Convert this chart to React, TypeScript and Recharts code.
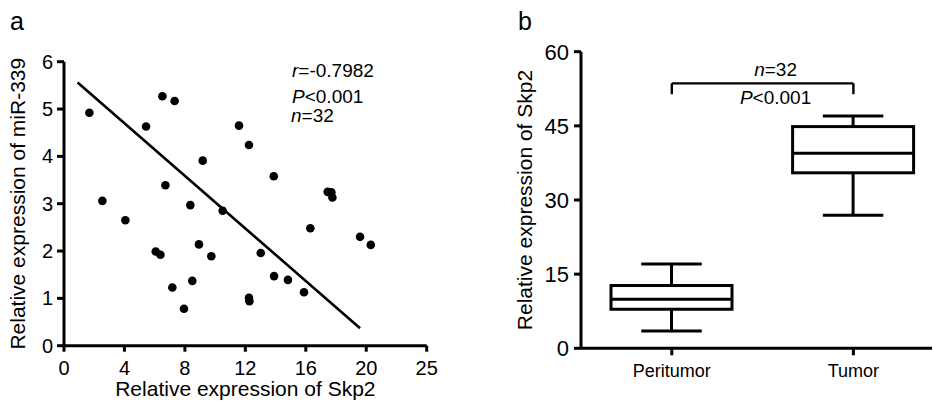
import React from 'react';
import {
  ScatterChart,
  Scatter,
  XAxis,
  YAxis,
  ReferenceLine,
  ComposedChart,
  Bar,
  Label,
  Customized,
} from 'recharts';

// ---------- Panel a: scatter data ----------
const skp2Values = [
  1.68, 2.54, 4.06, 5.43, 6.51, 7.32, 6.07, 6.38, 6.71, 7.17, 7.94, 8.36, 8.49, 8.93, 9.18, 9.75,
  10.5, 11.58, 12.24, 12.24, 12.27, 13.02, 13.88, 13.9, 14.82, 15.88, 16.3, 17.45, 17.69, 17.76,
  19.59, 20.3,
];
const mir339Values = [
  4.92, 3.06, 2.65, 4.63, 5.27, 5.17, 1.99, 1.92, 3.39, 1.23, 0.78, 2.97, 1.37, 2.14, 3.91, 1.89,
  2.85, 4.65, 4.24, 1.01, 0.94, 1.96, 3.58, 1.47, 1.39, 1.13, 2.48, 3.25, 3.24, 3.13, 2.3, 2.13,
];
const scatterXTicks = [0, 4, 8, 12, 16, 20, 24];
const scatterXTickLabels = ['0', '4', '8', '12', '16', '20', '25'];
const scatterYTicks = [0, 1, 2, 3, 4, 5, 6];
const fitStart = { x: 0.9, y: 5.56 };
const fitEnd = { x: 19.59, y: 0.37 };

// ---------- Panel b: box plot data ----------
const boxGroups = ['Peritumor', 'Tumor'];
const boxMin = [3.5, 26.9];
const boxQ1 = [7.9, 35.5];
const boxMedian = [9.9, 39.45];
const boxQ3 = [12.7, 44.85];
const boxMax = [17.05, 47.0];
const boxYTicks = [0, 15, 30, 45, 60];
const bracketTop = 53.6;
const bracketFoot = 51.4;

const scatterData = skp2Values.map((x, i) => ({ x, y: mir339Values[i] }));
const boxData = boxGroups.map((name, i) => ({
  name,
  min: boxMin[i],
  q1: boxQ1[i],
  median: boxMedian[i],
  q3: boxQ3[i],
  max: boxMax[i],
}));

const FONT = '"Liberation Sans", Arial, Helvetica, sans-serif';

const Dot = (props: any) => <circle cx={props.cx} cy={props.cy} r={4.3} fill="#000" />;

const BoxShape = (props: any) => {
  const { x, y, width, height, payload } = props;
  const base = y + height;
  const k = height / payload.max;
  const py = (v: number) => base - v * k;
  const cx = x + width / 2;
  const capHalf = width * 0.25;
  const sw = 3;
  return (
    <g stroke="#000" strokeWidth={sw} fill="none">
      <line x1={cx} x2={cx} y1={py(payload.max)} y2={py(payload.q3)} />
      <line x1={cx} x2={cx} y1={py(payload.q1)} y2={py(payload.min)} />
      <line x1={cx - capHalf} x2={cx + capHalf} y1={py(payload.max)} y2={py(payload.max)} />
      <line x1={cx - capHalf} x2={cx + capHalf} y1={py(payload.min)} y2={py(payload.min)} />
      <rect x={x} y={py(payload.q3)} width={width} height={py(payload.q1) - py(payload.q3)} fill="#fff" />
      <line x1={x} x2={x + width} y1={py(payload.median)} y2={py(payload.median)} />
    </g>
  );
};

const ScatterAnnotation = () => (
  <g fontFamily={FONT} fontSize={19} fill="#000">
    <text x={10} y={30} fontSize={25}>a</text>
    <text x={292} y={76.7}>
      <tspan fontStyle="italic">r</tspan>=-0.7982
    </text>
    <text x={292} y={103.3}>
      <tspan fontStyle="italic">P</tspan>&lt;0.001
    </text>
    <text x={291} y={121.7}>
      <tspan fontStyle="italic">n</tspan>=32
    </text>
  </g>
);

const BoxAnnotation = () => (
  <g fontFamily={FONT} fill="#000">
    <text x={58} y={30} fontSize={25}>b</text>
  </g>
);

const BracketLabel = (props: any) => {
  const vb = props.viewBox || {};
  const cx = vb.x + vb.width / 2 + 13;
  return (
    <g fontFamily={FONT} fontSize={19} fill="#000" textAnchor="middle">
      <text x={cx} y={vb.y - 7.3}>
        <tspan fontStyle="italic">n</tspan>=32
      </text>
      <text x={cx} y={vb.y + 20.7}>
        <tspan fontStyle="italic">P</tspan>&lt;0.001
      </text>
    </g>
  );
};

const YTitle = (cxPos: number, text: string) => (props: any) => {
  const vb = props.viewBox || {};
  const cy = vb.y + vb.height / 2;
  return (
    <text
      x={cxPos}
      y={cy}
      dy="0.355em"
      transform={`rotate(-90, ${cxPos}, ${cy})`}
      textAnchor="middle"
      fontFamily={FONT}
      fontSize={21}
      fill="#000"
    >
      {text}
    </text>
  );
};

const axisLine = { stroke: '#000', strokeWidth: 3 };
const tickLine = { stroke: '#000', strokeWidth: 3 };

export default function App() {
  return (
    <div style={{ position: 'absolute', left: 0, top: 0, width: 933, height: 408, background: '#fff' }}>
      <div style={{ position: 'absolute', left: 0, top: 0 }}>
        <ScatterChart
          width={460}
          height={408}
          margin={{ top: 61.7, right: 33.3, bottom: 0, left: 0 }}
          style={{ fontFamily: FONT }}
        >
          <XAxis
            type="number"
            dataKey="x"
            domain={[0, 24]}
            ticks={scatterXTicks}
            tickFormatter={(v: number, i: number) => scatterXTickLabels[i] ?? String(v)}
            height={62.3}
            tickSize={6}
            tickMargin={9}
            axisLine={axisLine}
            tickLine={tickLine}
            tick={{ fill: '#000', fontSize: 20, fontFamily: FONT }}
            interval={0}
            allowDataOverflow
          >
            <Label
              value="Relative expression of Skp2"
              position="insideBottom"
              offset={12.5}
              style={{ fill: '#000', fontSize: 21, fontFamily: FONT }}
            />
          </XAxis>
          <YAxis
            type="number"
            dataKey="y"
            domain={[0, 6]}
            ticks={scatterYTicks}
            width={64}
            tickSize={7}
            tickMargin={4}
            axisLine={axisLine}
            tickLine={tickLine}
            tick={{ fill: '#000', fontSize: 20, fontFamily: FONT }}
            interval={0}
          >
            <Label content={YTitle(18, 'Relative expression of miR-339')} />
          </YAxis>
          <ReferenceLine
            segment={[fitStart, fitEnd]}
            stroke="#000"
            strokeWidth={2.6}
          />
          <Scatter data={scatterData} shape={Dot} isAnimationActive={false} />
          <Customized component={ScatterAnnotation} />
        </ScatterChart>
      </div>
      <div style={{ position: 'absolute', left: 460, top: 0 }}>
        <ComposedChart
          width={473}
          height={408}
          data={boxData}
          margin={{ top: 51.7, right: 1, bottom: 0, left: 0 }}
          barCategoryGap={0}
          style={{ fontFamily: FONT }}
        >
          <XAxis
            dataKey="name"
            type="category"
            padding={{ left: 0, right: -12.2 }}
            height={59.7}
            tickSize={7}
            tickMargin={9}
            axisLine={axisLine}
            tickLine={tickLine}
            tick={{ fill: '#000', fontSize: 18, fontFamily: FONT }}
            interval={0}
          />
          <YAxis
            type="number"
            domain={[0, 60]}
            ticks={boxYTicks}
            width={121}
            tickSize={7}
            tickMargin={5}
            axisLine={axisLine}
            tickLine={tickLine}
            tick={{ fill: '#000', fontSize: 22, fontFamily: FONT }}
            interval={0}
          >
            <Label content={YTitle(65, 'Relative expression of Skp2')} />
          </YAxis>
          <Bar dataKey="max" barSize={121} shape={BoxShape} isAnimationActive={false} />
          <ReferenceLine
            segment={[
              { x: boxGroups[0], y: bracketTop },
              { x: boxGroups[1], y: bracketTop },
            ]}
            stroke="#000"
            strokeWidth={2.4}
            ifOverflow="visible"
            label={<BracketLabel />}
          />
          <ReferenceLine
            segment={[
              { x: boxGroups[0], y: bracketTop },
              { x: boxGroups[0], y: bracketFoot },
            ]}
            stroke="#000"
            strokeWidth={2.4}
            ifOverflow="visible"
          />
          <ReferenceLine
            segment={[
              { x: boxGroups[1], y: bracketTop },
              { x: boxGroups[1], y: bracketFoot },
            ]}
            stroke="#000"
            strokeWidth={2.4}
            ifOverflow="visible"
          />
          <Customized component={BoxAnnotation} />
        </ComposedChart>
      </div>
    </div>
  );
}
